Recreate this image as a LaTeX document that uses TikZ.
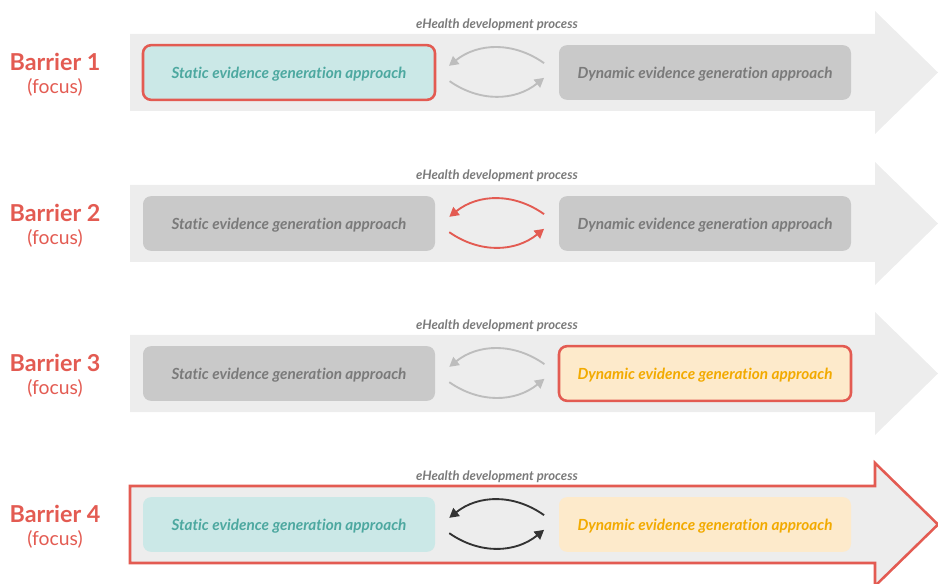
\documentclass[tikz,border=0pt]{standalone}
\usepackage{fontspec}
\setmainfont{Lato}[Ligatures={TeX,NoCommon}]
\usetikzlibrary{arrows.meta}

\definecolor{focusred}{HTML}{E35B52}
\definecolor{arrowbg}{HTML}{EDEDED}
\definecolor{boxgray}{HTML}{C9C9C9}
\definecolor{textgray}{HTML}{7A7A7A}
\definecolor{tealfill}{HTML}{CBE8E7}
\definecolor{tealtext}{HTML}{4DA8A0}
\definecolor{orangefill}{HTML}{FDEACB}
\definecolor{orangetext}{HTML}{F2AA00}
\definecolor{loopgray}{HTML}{BDBDBD}
\definecolor{loopdark}{HTML}{333333}

\tikzset{
  barrier/.style={text=focusred, font=\fontsize{17.5}{20}\selectfont\bfseries},
  focusnote/.style={text=focusred, font=\fontsize{14.5}{17}\selectfont},
  process/.style={text=textgray, font=\fontsize{9.8}{11}\selectfont\bfseries\itshape},
  approach/.style={rounded corners=6pt, minimum width=219pt, minimum height=41pt,
    text depth=0pt, font=\fontsize{11.5}{13}\selectfont\bfseries\itshape},
  grayapproach/.style={approach, fill=boxgray, text=textgray},
  staticapproach/.style={approach, fill=tealfill, text=tealtext},
  dynamicapproach/.style={approach, fill=orangefill, text=orangetext},
  focusbox/.style={draw=focusred, line width=1.9pt},
  loop/.style={line width=1.4pt, -{Triangle[length=7pt,width=7.5pt]}},
}

\begin{document}
\begin{tikzpicture}[x=0.75pt, y=-0.75pt]
\useasboundingbox (0,0) rectangle (938,584);

% Barrier 1
\fill[arrowbg] (130,34) -- (875,34) -- (875,11) -- (938,72.5) -- (875,134) -- (875,111) -- (130,111) -- cycle;
\node[process] (proc1) at (497,24.5) {eHealth development process};
\node[barrier] (bar1) at (55,62) {Barrier 1};
\node[focusnote] (foc1) at (55,87.5) {(focus)};
\node[staticapproach, focusbox] (s1) at (289,72.5) {Static evidence generation approach};
\node[grayapproach] (d1) at (705,72.5) {Dynamic evidence generation approach};
\draw[loop, loopgray] ([xshift=-11pt,yshift=7pt]d1.west) to[bend right=37] ([xshift=9.5pt,yshift=5pt]s1.east);
\draw[loop, loopgray] ([xshift=10pt,yshift=-6.5pt]s1.east) to[bend right=37] ([xshift=-11pt,yshift=-4pt]d1.west);

% Barrier 2
\fill[arrowbg] (130,185) -- (875,185) -- (875,162) -- (938,223.5) -- (875,285) -- (875,262) -- (130,262) -- cycle;
\node[process] (proc2) at (497,175.5) {eHealth development process};
\node[barrier] (bar2) at (55,213) {Barrier 2};
\node[focusnote] (foc2) at (55,238.5) {(focus)};
\node[grayapproach] (s2) at (289,223.5) {Static evidence generation approach};
\node[grayapproach] (d2) at (705,223.5) {Dynamic evidence generation approach};
\draw[loop, focusred] ([xshift=-11pt,yshift=7pt]d2.west) to[bend right=37] ([xshift=10.5pt,yshift=5pt]s2.east);
\draw[loop, focusred] ([xshift=10.5pt,yshift=-6.5pt]s2.east) to[bend right=37] ([xshift=-11pt,yshift=-4pt]d2.west);

% Barrier 3
\fill[arrowbg] (130,335) -- (875,335) -- (875,312) -- (938,373.5) -- (875,435) -- (875,412) -- (130,412) -- cycle;
\node[process] (proc3) at (497,325.5) {eHealth development process};
\node[barrier] (bar3) at (55,363) {Barrier 3};
\node[focusnote] (foc3) at (55,388.5) {(focus)};
\node[grayapproach] (s3) at (289,373.5) {Static evidence generation approach};
\node[dynamicapproach, focusbox] (d3) at (705,373.5) {Dynamic evidence generation approach};
\draw[loop, loopgray] ([xshift=-10pt,yshift=7pt]d3.west) to[bend right=37] ([xshift=10.5pt,yshift=5pt]s3.east);
\draw[loop, loopgray] ([xshift=10.5pt,yshift=-6.5pt]s3.east) to[bend right=37] ([xshift=-10pt,yshift=-4pt]d3.west);

% Barrier 4
\filldraw[fill=arrowbg, draw=focusred, line width=1.9pt] (130,486) -- (875,486) -- (875,463) -- (938,524.5) -- (875,586) -- (875,563) -- (130,563) -- cycle;
\node[process] (proc4) at (497,476.5) {eHealth development process};
\node[barrier] (bar4) at (55,514) {Barrier 4};
\node[focusnote] (foc4) at (55,539.5) {(focus)};
\node[staticapproach] (s4) at (289,524.5) {Static evidence generation approach};
\node[dynamicapproach] (d4) at (705,524.5) {Dynamic evidence generation approach};
\draw[loop, loopdark] ([xshift=-11pt,yshift=7pt]d4.west) to[bend right=37] ([xshift=10.5pt,yshift=5pt]s4.east);
\draw[loop, loopdark] ([xshift=10.5pt,yshift=-6.5pt]s4.east) to[bend right=37] ([xshift=-11pt,yshift=-4pt]d4.west);

\end{tikzpicture}
\end{document}
